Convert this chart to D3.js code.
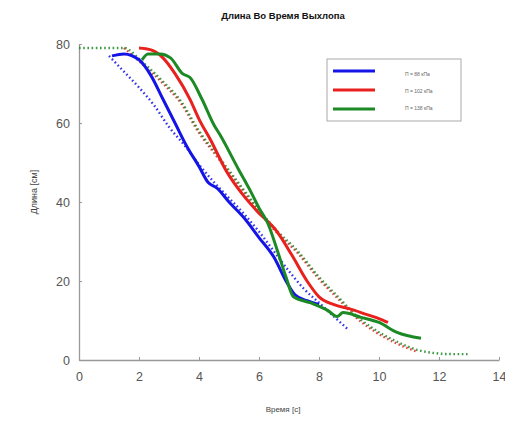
<!DOCTYPE html>
<html><head><meta charset="utf-8">
<script src="https://cdn.jsdelivr.net/npm/d3@7"></script>
<style>body{margin:0;background:#fff}svg{display:block}</style>
</head><body>
<script>
const title = "Длина Во Время Выхлопа";
const xLabel = "Время [с]";
const yLabel = "Длина [см]";
const xTicks = [0,2,4,6,8,10,12,14];
const yTicks = [0,20,40,60,80];
const legendLabels = ["П = 88 кПа","П = 102 кПа","П = 138 кПа"];
const colors = ["#1414e6","#e8211e","#1c8a24"];

const blueSolid = [[1.1,77],[1.5,77.5],[2.0,76],[2.4,72],[2.8,66],[3.2,60],[3.6,54],[4.0,49],[4.3,45],[4.6,43.5],[5.0,40],[5.5,36],[6.0,31],[6.5,26],[6.9,20],[7.2,16.5],[7.6,15],[8.0,14]];
const redSolid = [[2.0,79],[2.4,78.5],[2.8,76.5],[3.2,72.5],[3.7,66],[4.0,61],[4.4,55.5],[4.9,48],[5.5,41.5],[5.9,38],[6.6,32.5],[7.1,26.5],[7.6,20],[8.0,16],[8.5,14],[9.0,13],[9.6,11.5],[10.0,10.5],[10.3,9.5]];
const greenSolid = [[2.1,76],[2.3,77.5],[2.7,77.5],[3.05,76.5],[3.45,72.5],[3.7,71.5],[4.1,66],[4.5,59.5],[4.7,57],[5.3,48.5],[5.7,43],[6.0,38.5],[6.3,34.5],[6.6,28],[6.9,21],[7.15,16],[7.7,14.5],[8.3,12.5],[8.6,11],[8.8,12],[9.4,10.8],[10.0,9.5],[10.6,7],[11.4,5.5]];
const blueModel = [[1.0,77],[1.5,73],[2.0,69],[2.5,64.5],[3.0,59],[3.5,54.5],[4.0,49.5],[4.5,45],[5.0,41],[5.5,37],[6.0,32.5],[6.5,27.5],[7.0,22.5],[7.5,18],[8.0,14.5],[8.5,11],[9.0,7.5]];
const redModel = [[1.5,79],[2.1,75],[2.8,70],[3.4,65],[4.0,57.5],[4.7,50.5],[5.3,44.5],[5.9,38.5],[6.5,33],[7.3,27],[8.0,20.5],[8.7,15],[9.2,11],[9.8,7.5],[10.5,4.5],[11.3,2]];
const greenModel = [[0,79],[0.5,79],[1.0,79],[1.5,79],[2.1,75.5],[2.8,70.5],[3.4,65.5],[4.0,58],[4.7,51],[5.3,45],[5.9,39],[6.5,33.5],[7.3,27.5],[8.0,21],[8.7,15.5],[9.2,11.5],[9.8,8],[10.5,5],[11.3,2.5],[11.8,1.8],[12.4,1.5],[13.0,1.5]];

const W=505,H=423;
const svg=d3.select("body").append("svg").attr("width",W).attr("height",H);
const x=d3.scaleLinear().domain([0,14]).range([79,499]);
const y=d3.scaleLinear().domain([0,80]).range([360,44]);
const font="Liberation Sans, Arial, sans-serif";

// axes
const xa=svg.append("g").attr("transform","translate(0,360)")
  .call(d3.axisBottom(x).tickValues(xTicks).tickSize(-3).tickPadding(12).tickSizeOuter(0));
const ya=svg.append("g").attr("transform","translate(79,0)")
  .call(d3.axisLeft(y).tickValues(yTicks).tickSize(-3).tickPadding(9).tickSizeOuter(0));
[xa,ya].forEach(g=>{
  g.select(".domain").attr("stroke","#999").attr("stroke-width",1.3);
  g.selectAll(".tick line").attr("stroke","#999");
  g.selectAll(".tick text").attr("fill","#555").attr("font-size","12.5px").attr("font-family",font);
});

const line=d3.line().x(d=>x(d[0])).y(d=>y(d[1])).curve(d3.curveMonotoneX);
const models=[blueModel,redModel,greenModel];
const solids=[blueSolid,redSolid,greenSolid];
const g=svg.append("g");
models.forEach((d,i)=>{
  g.append("path").attr("d",line(d)).attr("fill","none").attr("stroke",colors[i])
   .attr("stroke-width",2.4).attr("stroke-dasharray","1.6,2.6").attr("opacity",0.85);
});
solids.forEach((d,i)=>{
  g.append("path").attr("d",line(d)).attr("fill","none").attr("stroke",colors[i])
   .attr("stroke-width",3).attr("stroke-linejoin","round");
});

// title and labels
svg.append("text").attr("x",283).attr("y",19).attr("text-anchor","middle")
  .attr("font-family",font).attr("font-weight","bold").attr("font-size","9.5px").attr("fill","#111").text(title);
svg.append("text").attr("x",283).attr("y",412).attr("text-anchor","middle")
  .attr("font-family",font).attr("font-size","8px").attr("fill","#444").text(xLabel);
svg.append("text").attr("transform","translate(37,192) rotate(-90)").attr("text-anchor","middle")
  .attr("font-family",font).attr("font-size","9px").attr("fill","#444").text(yLabel);

// legend
const lg=svg.append("g");
lg.append("rect").attr("x",327).attr("y",59).attr("width",134).attr("height",62)
  .attr("fill","#fff").attr("stroke","#aaa").attr("stroke-width",1);
legendLabels.forEach((t,i)=>{
  const ly=71+i*19;
  lg.append("line").attr("x1",333).attr("x2",375).attr("y1",ly).attr("y2",ly)
    .attr("stroke",colors[i]).attr("stroke-width",3);
  lg.append("text").attr("x",405).attr("y",ly+5-i*2).attr("font-family",font)
    .attr("font-size","5px").attr("fill","#666").text(t);
});
</script>
</body></html>
